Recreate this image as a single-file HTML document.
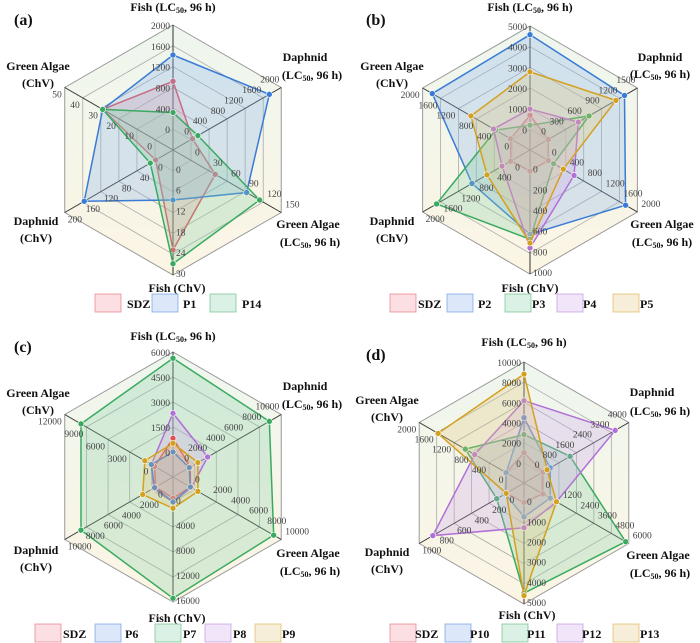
<!DOCTYPE html>
<html><head><meta charset="utf-8"><style>
body{margin:0;background:#fff}
svg{display:block}
svg text{font-family:"Liberation Serif","DejaVu Serif",serif}
.t{font-weight:bold;font-size:12px;fill:#111;text-anchor:middle}
.k{font-size:9.5px;fill:#444}
.l{font-weight:bold;font-size:16px;fill:#111}
.g{font-weight:bold;font-size:12px;fill:#111}
</style></head><body>
<svg id="s" width="700" height="643" xmlns="http://www.w3.org/2000/svg" font-family="Liberation Serif, DejaVu Serif, serif">
<defs><linearGradient id="bg" x1="0" y1="0" x2="0" y2="1"><stop offset="0" stop-color="#eef6ee"/><stop offset="1" stop-color="#fcf5e4"/></linearGradient></defs>
</svg>
<script>
const C={SDZ:['#e0505a','rgba(240,140,150,0.28)'],B:['#3a7bd5','rgba(140,180,235,0.3)'],G:['#3aaa60','rgba(140,210,170,0.3)'],P:['#b070d8','rgba(205,170,235,0.3)'],Y:['#d4a020','rgba(225,200,130,0.3)']};
const s=document.getElementById('s');let h='';
const FF='font-family="Liberation Serif, DejaVu Serif, serif"';
function P(cx,cy,r,i,f){const a=-Math.PI/2+i*Math.PI/3;return [cx+r*f*Math.cos(a),cy+r*f*Math.sin(a)];}
function panel(o){const {cx,cy,r}=o;const nr=o.rings||6;
 let pts=[];for(let i=0;i<6;i++)pts.push(P(cx,cy,r,i,1).join(','));
 h+=`<polygon points="${pts.join(' ')}" fill="url(#bg)" stroke="#999"/>`;
 for(let k=1;k<nr;k++){let p=[];for(let i=0;i<6;i++)p.push(P(cx,cy,r,i,k/nr).join(','));h+=`<polygon points="${p.join(' ')}" fill="none" stroke="#aaa" stroke-width="0.8"/>`;}
 for(let i=0;i<6;i++){const q=P(cx,cy,r,i,1);h+=`<line x1="${cx}" y1="${cy}" x2="${q[0]}" y2="${q[1]}" stroke="#333" stroke-width="1"/>`;}
 for(const sr of o.series){const c=C[sr[0]];const p=sr[1].map((f,i)=>P(cx,cy,r,i,f));
  h+=`<polygon points="${p.map(x=>x.join(',')).join(' ')}" fill="${c[1]}" stroke="${c[0]}" stroke-width="1.5"/>`;
  p.forEach(x=>h+=`<circle cx="${x[0]}" cy="${x[1]}" r="3" fill="${c[0]}" stroke="#fff" stroke-width="0.6"/>`);}
 const off=[[-3,4,'end'],[-2,-5,'end'],[4,-5,'start'],[3,2,'start'],[3,10,'start'],[-3,10,'end']];
 o.ticks.forEach((tk,i)=>{const n=tk.length;tk.forEach((v,k)=>{const q=P(cx,cy,r,i,(k+1)/n);const d=off[i];h+=`<text class="k" ${FF} x="${q[0]+d[0]}" y="${q[1]+d[1]}" text-anchor="${d[2]}">${v}</text>`;});});
 const L='(LC<tspan font-size="8" dy="2">50</tspan><tspan dy="-2">, 96 h)</tspan>';
 const T=o.titles;
 const t=(x,y,s)=>h+=`<text class="t" ${FF} x="${x}" y="${y}">${s}</text>`;
 t(T[0][0],T[0][1],'Fish '+L);
 t(T[1][0],T[1][1],'Daphnid');t(T[1][2],T[1][3],L);
 t(T[2][0],T[2][1],'Green Algae');t(T[2][2],T[2][3],L);
 t(T[3][0],T[3][1],'Fish (ChV)');
 t(T[4][0],T[4][1],'Daphnid');t(T[4][0],T[4][1]+17,'(ChV)');
 t(T[5][0],T[5][1],'Green Algae');t(T[5][0],T[5][1]+17,'(ChV)');
 h+=`<text class="l" ${FF} x="${o.let[0]}" y="${o.let[1]}">${o.let[2]}</text>`;
 o.leg.forEach(g=>{const c=C[g[0]];h+=`<rect x="${g[1]}" y="${o.ly-9}" width="26" height="18" fill="${c[1]}" stroke="${c[0]}" stroke-opacity="0.5"/><text class="g" ${FF} x="${g[2]}" y="${o.ly+5}">${g[3]}</text>`;});
}
panel({cx:173,cy:150,r:125,
 series:[['SDZ',[0.55,0.18,0.39,0.8,0.16,0.65]],['B',[0.76,0.89,0.68,0.4,0.82,0.65]],['G',[0.3,0.23,0.8,0.91,0.21,0.65]]],
 ticks:[[0,400,800,1200,1600,2000],[0,400,800,1200,1600,2000],[0,30,60,90,120,150],[0,6,12,18,24,30],[0,40,80,120,160,200],[0,10,20,30,40,50]],
 titles:[[173,11],[305,61,312,79],[308,228,310,246],[177,292],[36,225],[38,70]],
 let:[14,25,'(a)'],ly:303,
 leg:[['SDZ',95,127,'SDZ'],['B',152,183,'P1'],['G',210,242,'P14']]});
panel({cx:530,cy:150,r:124,
 series:[['SDZ',[0.28,0.17,0.17,0.17,0.18,0.18]],['B',[0.93,0.88,0.89,0.68,0.54,0.91]],['G',[0.2,0.55,0.22,0.72,0.87,0.32]],['P',[0.33,0.45,0.41,0.79,0.26,0.34]],['Y',[0.63,0.8,0.31,0.75,0.4,0.55]]],
 ticks:[[0,1000,2000,3000,4000,5000],[0,300,600,900,1200,1500],[0,400,800,1200,1600,2000],[0,200,400,600,800,1000],[0,400,800,1200,1600,2000],[0,400,800,1200,1600,2000]],
 titles:[[530,11],[660,61,660,78],[662,228,662,246],[530,292],[392,225],[392,70]],
 let:[366,25,'(b)'],ly:303,
 leg:[['SDZ',390,418,'SDZ'],['B',447,478,'P2'],['G',505,532,'P3'],['P',557,583,'P4'],['Y',613,640,'P5']]});
panel({cx:173,cy:477,r:125,rings:5,
 series:[['G',[0.95,0.89,0.93,0.97,0.85,0.85]],['P',[0.51,0.32,0.17,0.2,0.18,0.2]],['SDZ',[0.31,0.16,0.16,0.17,0.16,0.17]],['B',[0.2,0.15,0.16,0.2,0.17,0.2]],['Y',[0.27,0.23,0.23,0.25,0.28,0.26]]],
 ticks:[[0,1500,3000,4500,6000],[0,2000,4000,6000,8000,10000],[0,2000,4000,6000,8000,10000],[0,4000,8000,12000,16000],[0,2000,4000,6000,8000,10000],[0,3000,6000,9000,12000]],
 titles:[[173,340],[305,390,312,408],[308,557,310,575],[177,622],[36,554],[38,397]],
 let:[14,352,'(c)'],ly:633,
 leg:[['SDZ',35,63,'SDZ'],['B',95,125,'P6'],['G',155,183,'P7'],['P',205,233,'P8'],['Y',255,282,'P9']]});
panel({cx:524,cy:483,r:121,
 series:[['SDZ',[0.25,0.18,0.18,0.16,0.17,0.17]],['B',[0.54,0.25,0.25,0.28,0.18,0.17]],['G',[0.4,0.44,0.97,0.91,0.26,0.56]],['P',[0.68,0.87,0.31,0.37,0.87,0.47]],['Y',[0.9,0.22,0.31,0.93,0.17,0.82]]],
 ticks:[[0,2000,4000,6000,8000,10000],[0,800,1600,2400,3200,4000],[0,1200,2400,3600,4800,6000],[0,1000,2000,3000,4000,5000],[0,200,400,600,800,1000],[0,400,800,1200,1600,2000]],
 titles:[[524,346],[652,396,660,415],[658,559,660,577],[527,619],[387,556],[387,404]],
 let:[366,360,'(d)'],ly:633,
 leg:[['SDZ',390,415,'SDZ'],['B',445,470,'P10'],['G',502,527,'P11'],['P',557,582,'P12'],['Y',613,640,'P13']]});
s.insertAdjacentHTML('beforeend',h);
</script>
</body></html>
